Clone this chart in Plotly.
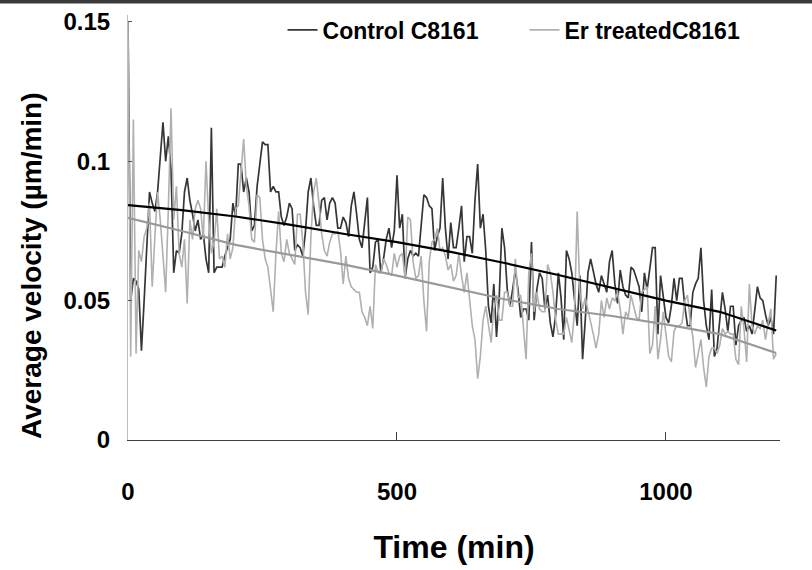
import plotly.graph_objects as go

# ---------------- data (5-min sampling) ----------------
TIME_STEP = 5  # minutes between samples

control_c8161 = [
    0.150, 0.050, 0.058, 0.057, 0.054, 0.032, 0.050, 0.072, 0.089, 0.085,
    0.082, 0.089, 0.103, 0.114, 0.100, 0.109, 0.097, 0.060, 0.068, 0.067,
    0.074, 0.089, 0.094, 0.086, 0.081, 0.075, 0.079, 0.072, 0.074, 0.065,
    0.060, 0.112, 0.060, 0.062, 0.062, 0.062, 0.066, 0.069, 0.072, 0.085,
    0.080, 0.099, 0.099, 0.089, 0.094, 0.089, 0.075, 0.077, 0.091, 0.099,
    0.107, 0.106, 0.106, 0.089, 0.091, 0.089, 0.089, 0.080, 0.077, 0.080,
    0.085, 0.083, 0.068, 0.070, 0.069, 0.066, 0.075, 0.089, 0.094, 0.084,
    0.077, 0.077, 0.086, 0.087, 0.079, 0.085, 0.087, 0.085, 0.076, 0.076,
    0.080, 0.078, 0.073, 0.084, 0.089, 0.081, 0.072, 0.069, 0.079, 0.087,
    0.060, 0.062, 0.071, 0.072, 0.060, 0.065, 0.072, 0.076, 0.069, 0.075,
    0.095, 0.076, 0.081, 0.058, 0.065, 0.068, 0.066, 0.067, 0.066, 0.077,
    0.088, 0.087, 0.084, 0.083, 0.068, 0.073, 0.076, 0.094, 0.076, 0.065,
    0.078, 0.069, 0.069, 0.076, 0.084, 0.064, 0.073, 0.073, 0.067, 0.086,
    0.099, 0.076, 0.081, 0.068, 0.048, 0.042, 0.056, 0.037, 0.051, 0.076,
    0.069, 0.054, 0.048, 0.054, 0.061, 0.054, 0.044, 0.047, 0.047, 0.043,
    0.071, 0.043, 0.054, 0.060, 0.058, 0.047, 0.052, 0.042, 0.037, 0.045,
    0.060, 0.051, 0.036, 0.068, 0.065, 0.060, 0.051, 0.041, 0.059, 0.029,
    0.043, 0.060, 0.065, 0.060, 0.056, 0.053, 0.059, 0.056, 0.053, 0.064,
    0.068, 0.056, 0.049, 0.061, 0.055, 0.052, 0.051, 0.062, 0.061, 0.058,
    0.055, 0.046, 0.060, 0.054, 0.061, 0.069, 0.069, 0.038, 0.059, 0.051,
    0.044, 0.042, 0.048, 0.058, 0.050, 0.058, 0.058, 0.048, 0.041, 0.041,
    0.053, 0.056, 0.058, 0.069, 0.050, 0.041, 0.036, 0.054, 0.030, 0.033,
    0.043, 0.053, 0.047, 0.039, 0.048, 0.048, 0.034, 0.041, 0.043, 0.044,
    0.039, 0.041, 0.038, 0.046, 0.055, 0.051, 0.050, 0.045, 0.041, 0.044,
    0.038, 0.059,
]

er_treated_c8161 = [
    0.150, 0.030, 0.115, 0.031, 0.068, 0.064, 0.073, 0.076, 0.085, 0.055,
    0.073, 0.089, 0.079, 0.067, 0.053, 0.083, 0.119, 0.079, 0.091, 0.067,
    0.062, 0.072, 0.049, 0.079, 0.072, 0.083, 0.086, 0.083, 0.072, 0.100,
    0.079, 0.067, 0.071, 0.083, 0.065, 0.066, 0.062, 0.074, 0.065, 0.069,
    0.083, 0.084, 0.097, 0.108, 0.091, 0.084, 0.072, 0.071, 0.088, 0.087,
    0.072, 0.065, 0.062, 0.053, 0.046, 0.067, 0.082, 0.067, 0.064, 0.072,
    0.067, 0.065, 0.063, 0.081, 0.081, 0.071, 0.053, 0.045, 0.073, 0.089,
    0.094, 0.085, 0.074, 0.068, 0.066, 0.071, 0.074, 0.074, 0.075, 0.068,
    0.056, 0.066, 0.058, 0.055, 0.054, 0.053, 0.053, 0.046, 0.044, 0.041,
    0.048, 0.040, 0.063, 0.060, 0.060, 0.065, 0.063, 0.060, 0.059, 0.067,
    0.062, 0.066, 0.067, 0.058, 0.080, 0.079, 0.064, 0.058, 0.059, 0.066,
    0.050, 0.039, 0.064, 0.071, 0.072, 0.076, 0.068, 0.069, 0.066, 0.061,
    0.063, 0.057, 0.059, 0.067, 0.059, 0.053, 0.060, 0.051, 0.041, 0.036,
    0.022, 0.030, 0.043, 0.048, 0.041, 0.035, 0.047, 0.052, 0.043, 0.043,
    0.053, 0.053, 0.048, 0.048, 0.065, 0.051, 0.052, 0.041, 0.029, 0.060,
    0.067, 0.046, 0.053, 0.047, 0.046, 0.046, 0.063, 0.060, 0.053, 0.043,
    0.038, 0.038, 0.038, 0.044, 0.039, 0.035, 0.046, 0.082, 0.053, 0.047,
    0.051, 0.047, 0.042, 0.038, 0.033, 0.038, 0.050, 0.044, 0.051, 0.047,
    0.051, 0.050, 0.053, 0.047, 0.038, 0.046, 0.044, 0.052, 0.048, 0.044,
    0.043, 0.053, 0.054, 0.055, 0.031, 0.034, 0.048, 0.029, 0.036, 0.046,
    0.038, 0.030, 0.028, 0.039, 0.041, 0.041, 0.042, 0.050, 0.052, 0.043,
    0.037, 0.026, 0.031, 0.036, 0.026, 0.019, 0.030, 0.033, 0.033, 0.031,
    0.034, 0.040, 0.038, 0.039, 0.038, 0.038, 0.029, 0.027, 0.048, 0.040,
    0.028, 0.056, 0.041, 0.038, 0.041, 0.040, 0.043, 0.036, 0.042, 0.047,
    0.029, 0.031,
]

time_min = [i * TIME_STEP for i in range(len(control_c8161))]

# trend lines
trend_time = [0, 100, 200, 300, 400, 500, 600, 700, 800, 900, 1000, 1100, 1205]
control_trend = [0.0843, 0.0825, 0.0802, 0.0773, 0.0740, 0.0710, 0.0675,
                 0.0635, 0.0592, 0.0547, 0.0500, 0.0460, 0.0393]
er_trend = [0.0797, 0.0750, 0.0700, 0.0665, 0.0630, 0.0590, 0.0548,
            0.0505, 0.0470, 0.0445, 0.0415, 0.0380, 0.0312]

x_ticks = [0, 500, 1000]
y_ticks = [0, 0.05, 0.1, 0.15]
y_ticktext = ["0", "0.05", "0.1", "0.15"]

FONT = "Liberation Sans, Arial, sans-serif"

fig = go.Figure()
fig.add_trace(go.Scatter(x=time_min, y=control_c8161, mode="lines",
                         name="Control C8161",
                         line=dict(color="#363636", width=1.7)))
fig.add_trace(go.Scatter(x=time_min, y=er_treated_c8161, mode="lines",
                         name="Er treatedC8161",
                         line=dict(color="#b0b0b0", width=1.6)))
fig.add_trace(go.Scatter(x=trend_time, y=control_trend, mode="lines",
                         showlegend=False,
                         line=dict(color="#000000", width=2.2)))
fig.add_trace(go.Scatter(x=trend_time, y=er_trend, mode="lines",
                         showlegend=False,
                         line=dict(color="#999999", width=2.2)))

fig.update_layout(
    width=812, height=570,
    margin=dict(l=128, r=32, t=15, b=130, autoexpand=False),
    paper_bgcolor="white", plot_bgcolor="white",
    font=dict(family=FONT, color="black"),
    showlegend=True,
    legend=dict(orientation="h", x=0.237, xanchor="left", y=0.965,
                yanchor="middle", bgcolor="rgba(0,0,0,0)",
                font=dict(size=23, weight="bold", color="black"),
                entrywidth=197, entrywidthmode="pixels"),
    xaxis=dict(range=[0, 1212], tickvals=x_ticks, ticks="inside", ticklen=8,
               tickcolor="#404040", showline=True, linecolor="#404040",
               linewidth=1, showgrid=False, zeroline=False, automargin=False,
               tickfont=dict(size=24, weight="bold"), ticklabelstandoff=30,
               title=dict(text="Time (min)", standoff=31,
                          font=dict(size=32, weight="bold"))),
    yaxis=dict(range=[0, 0.1525], tickvals=y_ticks, ticktext=y_ticktext,
               ticks="inside", ticklen=4, tickcolor="#555555",
               showline=True, linecolor="#bdbdbd", linewidth=1,
               showgrid=False, zeroline=False, automargin=False,
               tickfont=dict(size=24, weight="bold"), ticklabelstandoff=12),
    annotations=[dict(text="Average velocity (µm/min)", textangle=-90,
                      xref="paper", yref="paper", x=(31 - 128) / 652,
                      y=(440 - 266) / 425, xanchor="center", yanchor="middle",
                      showarrow=False,
                      font=dict(size=28, weight="bold", color="black"))],
    shapes=[dict(type="rect", xref="paper", yref="paper",
                 x0=-128 / 652, x1=(812 - 128) / 652,
                 y0=1 + 11.5 / 425, y1=1 + 16 / 425,
                 fillcolor="#3a3a3a", line=dict(width=0), layer="above")],
)

fig.write_html(
    "out.html",
    config={"displayModeBar": False},
    post_script="document.body.style.margin='0';document.body.style.overflow='hidden';",
)
